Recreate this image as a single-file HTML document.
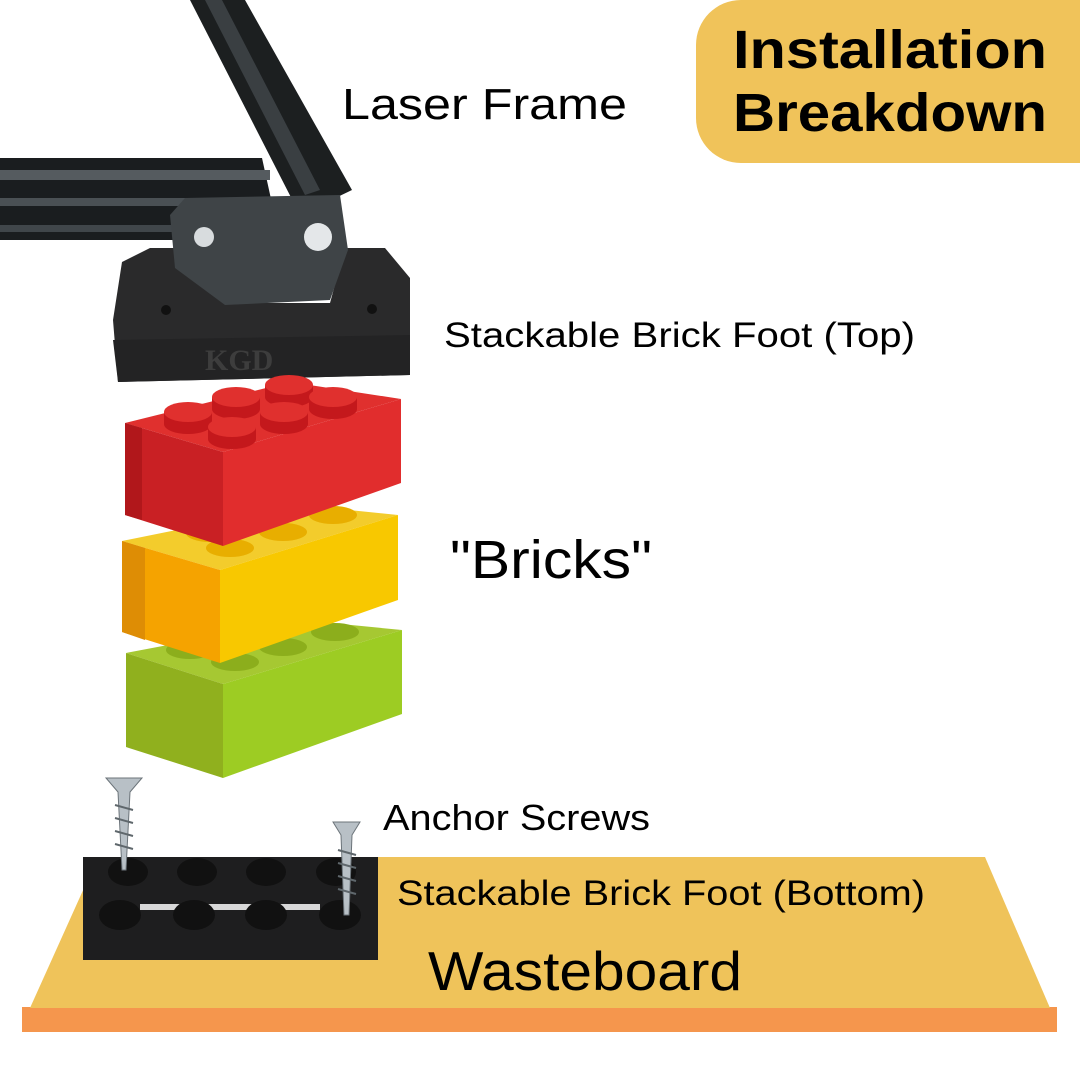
<!DOCTYPE html>
<html><head><meta charset="utf-8"><style>
html,body{margin:0;padding:0;background:#fff}
svg{display:block}
text{font-family:"Liberation Sans",sans-serif;fill:#000}
</style></head><body>
<svg width="1080" height="1080" viewBox="0 0 1080 1080" xmlns="http://www.w3.org/2000/svg">
<rect width="1080" height="1080" fill="#fff"/>
<!-- title box -->
<path d="M741 0 H1080 V163 H741 A45 45 0 0 1 696 118 V45 A45 45 0 0 1 741 0 Z" fill="#F0C35A"/>
<text x="733" y="68" font-size="54" font-weight="bold" textLength="314" lengthAdjust="spacingAndGlyphs">Installation</text>
<text x="733" y="131" font-size="54" font-weight="bold" textLength="314" lengthAdjust="spacingAndGlyphs">Breakdown</text>

<!-- wasteboard -->
<polygon points="22,1007 1057,1007 1057,1032 22,1032" fill="#F5964D"/>
<polygon points="98,857 985,857 1050,1008 30,1008" fill="#EFC35A"/>

<!-- laser frame -->
<polygon points="190,0 245,0 352,190 300,215" fill="#1c1f20"/>
<polygon points="205,0 222,0 320,190 305,195" fill="#3a3f42"/>
<polygon points="0,158 262,158 280,240 0,240" fill="#1a1d1f"/>
<rect x="0" y="170" width="270" height="10" fill="#555b5f"/>
<rect x="0" y="198" width="250" height="8" fill="#4a5054"/>
<rect x="0" y="225" width="230" height="7" fill="#40464a"/>
<!-- top foot -->
<polygon points="122,262 150,248 180,248 225,303 330,303 345,248 385,248 410,278 410,375 118,382 113,320" fill="#2a2a2b"/>
<polygon points="175,268 225,305 330,300 348,250 340,195 185,198 170,215" fill="#3f4447"/>
<circle cx="204" cy="237" r="10" fill="#d8dcde"/>
<circle cx="318" cy="237" r="14" fill="#e4e7e9"/>
<polygon points="113,340 410,335 410,375 118,382" fill="#232324"/>
<text x="205" y="370" font-size="30" font-weight="bold" style="fill:#3d3d3d;font-family:'Liberation Serif',serif">KGD</text>
<circle cx="166" cy="310" r="5" fill="#111"/><circle cx="372" cy="309" r="5" fill="#111"/>

<!-- green brick -->
<polygon points="126,653 300,620 402,630 223,684" fill="#A6C832"/>
<ellipse cx="190" cy="650" rx="24" ry="9" fill="#8CAE1C"/>
<ellipse cx="235" cy="662" rx="24" ry="9" fill="#8CAE1C"/>
<ellipse cx="283" cy="647" rx="24" ry="9" fill="#8CAE1C"/>
<ellipse cx="335" cy="632" rx="24" ry="9" fill="#8CAE1C"/>
<polygon points="126,653 223,684 223,778 126,747" fill="#90B01E"/>
<polygon points="223,684 402,630 402,714 223,778" fill="#9DCC23"/>
<!-- yellow brick -->
<polygon points="122,541 300,505 398,515 220,570" fill="#F3CC2C"/>
<ellipse cx="210" cy="533" rx="24" ry="9" fill="#E8AE00"/>
<ellipse cx="230" cy="548" rx="24" ry="9" fill="#E8AE00"/>
<ellipse cx="283" cy="532" rx="24" ry="9" fill="#E8AE00"/>
<ellipse cx="333" cy="515" rx="24" ry="9" fill="#E8AE00"/>
<polygon points="122,541 220,570 220,663 122,632" fill="#F5A300"/>
<polygon points="122,541 145,548 145,640 122,632" fill="#DE8D05"/>
<polygon points="220,570 398,515 398,600 220,663" fill="#F8C800"/>
<!-- red brick -->
<polygon points="125,423 290,382 401,399 223,452" fill="#E0302E"/>
<polygon points="125,423 223,452 223,546 125,515" fill="#C92024"/>
<polygon points="125,423 142,428 142,520 125,515" fill="#B1171B"/>
<polygon points="223,452 401,399 401,483 223,546" fill="#E12D2D"/>
<!-- studs (back to front) -->
<g>
<path d="M265,385 v12 a24,10 0 0 0 48,0 v-12 z" fill="#C4181C"/><ellipse cx="289" cy="385" rx="24" ry="10" fill="#E0302E"/>
<path d="M212,397 v12 a24,10 0 0 0 48,0 v-12 z" fill="#C4181C"/><ellipse cx="236" cy="397" rx="24" ry="10" fill="#E0302E"/>
<path d="M309,397 v12 a24,10 0 0 0 48,0 v-12 z" fill="#C4181C"/><ellipse cx="333" cy="397" rx="24" ry="10" fill="#E0302E"/>
<path d="M164,412 v12 a24,10 0 0 0 48,0 v-12 z" fill="#C4181C"/><ellipse cx="188" cy="412" rx="24" ry="10" fill="#E0302E"/>
<path d="M260,412 v12 a24,10 0 0 0 48,0 v-12 z" fill="#C4181C"/><ellipse cx="284" cy="412" rx="24" ry="10" fill="#E0302E"/>
<path d="M208,427 v12 a24,10 0 0 0 48,0 v-12 z" fill="#C4181C"/><ellipse cx="232" cy="427" rx="24" ry="10" fill="#E0302E"/>
</g>

<!-- bottom foot -->
<rect x="83" y="857" width="295" height="103" fill="#1e1e1f"/>
<rect x="140" y="904" width="180" height="6" fill="#d8d8d8"/>
<g fill="#111">
<ellipse cx="128" cy="872" rx="20" ry="14"/><ellipse cx="197" cy="872" rx="20" ry="14"/>
<ellipse cx="266" cy="872" rx="20" ry="14"/><ellipse cx="336" cy="872" rx="20" ry="14"/>
<ellipse cx="120" cy="915" rx="21" ry="15"/><ellipse cx="194" cy="915" rx="21" ry="15"/>
<ellipse cx="266" cy="915" rx="21" ry="15"/><ellipse cx="340" cy="915" rx="21" ry="15"/>
</g>
<!-- screws -->
<g fill="#b8c0c6" stroke="#6c747a" stroke-width="1">
<polygon points="106,778 142,778 130,792 126,870 122,870 118,792"/>
<polygon points="333,822 360,822 352,835 349,915 344,915 341,835"/>
</g>
<g stroke="#5f676c" stroke-width="2">
<line x1="115" y1="805" x2="133" y2="810"/><line x1="115" y1="818" x2="133" y2="823"/><line x1="115" y1="831" x2="133" y2="836"/><line x1="115" y1="844" x2="133" y2="849"/>
<line x1="338" y1="850" x2="356" y2="855"/><line x1="338" y1="863" x2="356" y2="868"/><line x1="338" y1="876" x2="356" y2="881"/><line x1="338" y1="889" x2="356" y2="894"/>
</g>

<!-- labels -->
<text x="342" y="119" font-size="44" textLength="285" lengthAdjust="spacingAndGlyphs">Laser Frame</text>
<text x="444" y="347" font-size="35" textLength="471" lengthAdjust="spacingAndGlyphs">Stackable Brick Foot (Top)</text>
<text x="450" y="578" font-size="54" textLength="202" lengthAdjust="spacingAndGlyphs">"Bricks"</text>
<text x="383" y="830" font-size="36" textLength="267" lengthAdjust="spacingAndGlyphs">Anchor Screws</text>
<text x="397" y="905" font-size="35" textLength="528" lengthAdjust="spacingAndGlyphs">Stackable Brick Foot (Bottom)</text>
<text x="428" y="990" font-size="55" textLength="314" lengthAdjust="spacingAndGlyphs">Wasteboard</text>
</svg>
</body></html>
